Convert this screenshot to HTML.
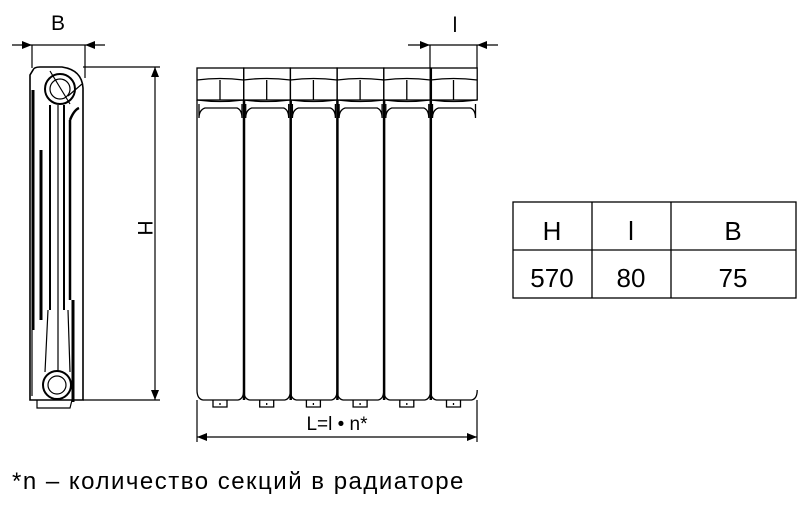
<!DOCTYPE html>
<html><head><meta charset="utf-8"><style>
body{margin:0;background:#fff;width:811px;height:506px;overflow:hidden;font-family:"Liberation Sans","DejaVu Sans",sans-serif}
</style></head><body>
<svg width="811" height="506" viewBox="0 0 811 506" xmlns="http://www.w3.org/2000/svg" font-family="Liberation Sans, DejaVu Sans, sans-serif">
<defs>
<marker id="a" markerWidth="10" markerHeight="8" refX="10" refY="4" orient="auto" markerUnits="userSpaceOnUse"><path d="M0,0 L10,4 L0,8z" fill="#000"/></marker>
</defs>
<g stroke="#000" fill="none" stroke-width="1.2">
<line x1="12" y1="45" x2="32" y2="45" marker-end="url(#a)"/>
<line x1="105" y1="45" x2="85" y2="45" marker-end="url(#a)"/>
<line x1="32" y1="45" x2="85" y2="45"/>
<line x1="32" y1="45" x2="32" y2="68"/>
<line x1="85" y1="45" x2="85" y2="78"/>
<path d="M33,70 Q34,67 40,67 L62,67 Q82,70 83,88 L83,400 L30,400 L30,75 Z" stroke-width="1.6"/>
<circle cx="60" cy="89" r="15" stroke-width="2"/>
<circle cx="60" cy="89" r="10"/>
<circle cx="57" cy="385" r="14" stroke-width="2"/>
<circle cx="57" cy="385" r="9"/>
<path d="M50,71 L70,104 M68,96 L82,84" />
<line x1="73" y1="402" x2="73" y2="300" stroke-width="3"/>
<path d="M70,120 Q74,110 79,108 M70,120 L70,300" stroke-width="2.5"/>
<line x1="33" y1="90" x2="33" y2="330" stroke-width="3"/>
<line x1="41" y1="150" x2="41" y2="320" stroke-width="3"/>
<line x1="50" y1="105" x2="50" y2="310" stroke-width="2"/>
<line x1="64" y1="105" x2="64" y2="310" stroke-width="2"/>
<line x1="58" y1="105" x2="58" y2="372"/>
<path d="M32,330 L32,396 M48,310 L45,372 M68,310 L70,372"/>
<path d="M37,400 L37,408 L70,408 L72,400"/>
<line x1="83" y1="67" x2="160" y2="67"/>
<line x1="83" y1="400" x2="160" y2="400"/>
<line x1="155" y1="80" x2="155" y2="67" marker-end="url(#a)"/>
<line x1="155" y1="388" x2="155" y2="400" marker-end="url(#a)"/>
<line x1="155" y1="80" x2="155" y2="388"/>
<line x1="408" y1="45" x2="430" y2="45" marker-end="url(#a)"/>
<line x1="498" y1="45" x2="477" y2="45" marker-end="url(#a)"/>
<line x1="430" y1="45" x2="477" y2="45"/>
<line x1="430" y1="45" x2="430" y2="68"/>
<line x1="477" y1="45" x2="477" y2="68"/>
<line x1="197" y1="400" x2="197" y2="442"/>
<line x1="477" y1="400" x2="477" y2="442"/>
<line x1="210" y1="437" x2="197" y2="437" marker-end="url(#a)"/>
<line x1="464" y1="437" x2="477" y2="437" marker-end="url(#a)"/>
<line x1="210" y1="437" x2="464" y2="437"/>
</g>
<g stroke="#000" fill="none" stroke-width="1.3">
<g id="s">
<rect x="197" y="68" width="46.7" height="32"/>
<path d="M197,80 Q220,77 243.7,80"/>
<line x1="220" y1="80" x2="220" y2="100"/>
<path d="M197,100 Q220,103 243.7,100"/>
<path d="M199,104 L199,118 Q199,110 205,108 L237,108 Q242,110 242,118 L242,104"/>
<path d="M197,100 L197,390 Q197,399 203,400 L238,400 Q243.7,399 243.7,390"/>
<path d="M213,400 L213,407 L227,407 L227,400"/>
<line x1="220" y1="403" x2="220" y2="405"/>
</g>
<use href="#s" x="46.7"/>
<use href="#s" x="93.4"/>
<use href="#s" x="140.1"/>
<use href="#s" x="186.8"/>
<use href="#s" x="233.5"/>
<g stroke-width="2.5">
<line x1="244" y1="100" x2="244" y2="400"/><line x1="290.7" y1="100" x2="290.7" y2="400"/><line x1="337.4" y1="100" x2="337.4" y2="400"/><line x1="384.1" y1="100" x2="384.1" y2="400"/><line x1="430.8" y1="68" x2="430.8" y2="400"/>
</g>
<rect x="513" y="202" width="283" height="96"/>
<line x1="513" y1="250" x2="796" y2="250"/>
<line x1="592" y1="202" x2="592" y2="298"/>
<line x1="671" y1="202" x2="671" y2="298"/>
</g>
<g font-size="21" fill="#000">
<text x="58" y="30" text-anchor="middle">B</text>
<text x="455" y="32" text-anchor="middle">l</text>
<text x="0" y="0" transform="translate(138,228) rotate(90)" text-anchor="middle">H</text>
</g>
<text x="337" y="430" text-anchor="middle" font-size="19" fill="#000">L=l • n*</text>
<g font-size="26" fill="#000" text-anchor="middle">
<text x="552" y="240">H</text><text x="631" y="240">l</text><text x="733" y="240">B</text>
<text x="552" y="287">570</text><text x="631" y="287">80</text><text x="733" y="287">75</text>
</g>
<text x="12" y="489" font-size="24" letter-spacing="1.5" fill="#000">*n – количество секций в радиаторе</text>
</svg>
</body></html>
